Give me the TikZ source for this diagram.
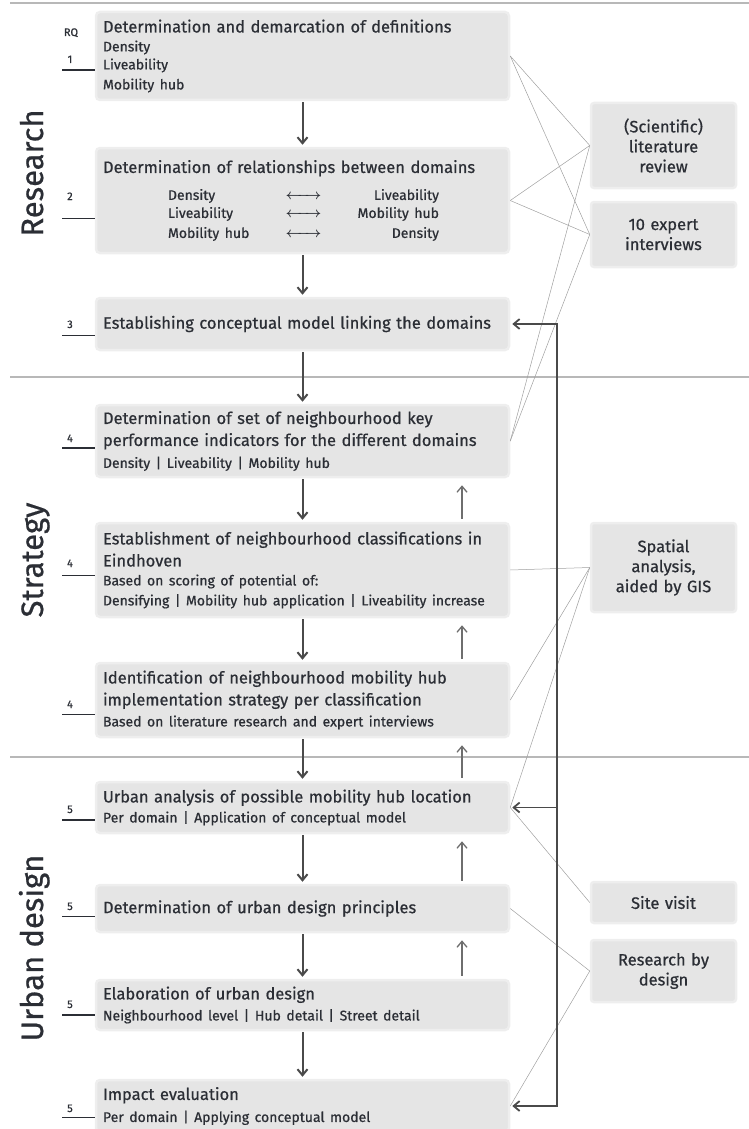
\documentclass[tikz,border=0pt]{standalone}
\usepackage{mathtools}
\usepackage{fontspec}
\setmainfont{Fira Sans}[FakeBold=0.7]
\usetikzlibrary{arrows.meta,positioning,calc}

\definecolor{ink}{HTML}{2B2E35}
\definecolor{boxfill}{HTML}{E5E5E5}
\definecolor{boxedge}{HTML}{EEEEEE}
\definecolor{arrowgray}{HTML}{4A4A4A}
\definecolor{linkgray}{HTML}{A0A0A0}
\definecolor{sepgray}{HTML}{B8B8B8}

\newcommand{\mainsize}{\fontsize{16.5}{20}\selectfont}
\newcommand{\subsize}{\fontsize{14}{18}\selectfont}
\newcommand{\relrow}[2]{\hspace*{65pt}\makebox[116pt][l]{#1}\makebox[39pt]{\boldmath$\xleftrightarrow{\hspace{27pt}}$}\makebox[116pt][r]{#2}}

\tikzset{
  stage/.style={fill=boxfill, draw=boxedge, line width=2.5pt, rounded corners=4pt,
    minimum width=413pt, text width=399pt, inner xsep=7pt, align=left, text=ink, font=\mainsize},
  method/.style={fill=boxfill, draw=boxedge, line width=2.5pt, rounded corners=3pt,
    minimum width=145pt, text width=131pt, align=center, text=ink, font=\mainsize},
  phase/.style={rotate=90, anchor=base, text=ink, font=\fontsize{31}{31}\selectfont},
  rqnum/.style={anchor=base, inner sep=0pt, text=ink, font=\fontsize{11}{11}\selectfont},
  flow/.style={draw=arrowgray, line width=2pt, -{Straight Barb[length=6pt,width=10pt]}},
  loopline/.style={draw=arrowgray, line width=1.8pt,
    {Straight Barb[length=6pt,width=10pt]}-{Straight Barb[length=6pt,width=10pt]}},
  feedback/.style={draw=arrowgray!80, line width=1.3pt, -{Straight Barb[length=6pt,width=10pt]}},
  litlink/.style={draw=linkgray, line width=0.5pt},
  rqline/.style={draw=ink, line width=0.7pt},
  rqlinebold/.style={draw=ink, line width=1.8pt},
  divider/.style={draw=sepgray, line width=1.2pt}
}

\begin{document}
\begin{tikzpicture}[x=1pt,y=-1pt]
    \useasboundingbox (0,0) rectangle (749,1129);
    \foreach \y in {3,377,757}
        \draw[divider] (10,\y) -- (749,\y);

    \node[phase] (research) at (43,173) {Research};
    \node[phase] (strategy) at (43,560) {Strategy};
    \node[phase] (design) at (43,948) {Urban design};

    % stages
    \node[stage, minimum height=88pt] (def) at (302.5,56)
        {Determination and demarcation of definitions\\[1pt] \subsize Density\\ Liveability\\ Mobility hub};
    \node[stage, minimum height=105pt] (rel) at (302.5,200.5)
        {Determination of relationships between domains\\[9pt] \subsize
         \relrow{Density}{Liveability}\\ \relrow{Liveability}{Mobility hub}\\ \relrow{Mobility hub}{Density}};
    \node[stage, minimum height=52pt] (model) at (302.5,324)
        {Establishing conceptual model linking the domains};
    \node[stage, minimum height=72pt] (kpi) at (302.5,441)
        {Determination of set of neighbourhood key\\[2pt] performance indicators for the different domains\\[2pt]
         \subsize Density | Liveability | Mobility hub};
    \node[stage, minimum height=94pt] (class) at (302.5,570)
        {Establishment of neighbourhood classifications in\\[2pt] Eindhoven\\[1pt]
         \subsize Based on scoring of potential of:\\ Densifying | Mobility hub application | Liveability increase};
    \node[stage, minimum height=74pt] (strat) at (302.5,700)
        {Identification of neighbourhood mobility hub\\[2pt] implementation strategy per classification\\[1pt]
         \subsize Based on literature research and expert interviews};
    \node[stage, minimum height=51pt] (urban) at (302.5,807.5)
        {Urban analysis of possible mobility hub location\\ \subsize Per domain | Application of conceptual model};
    \node[stage, minimum height=47pt] (principles) at (302.5,908.5)
        {Determination of urban design principles};
    \node[stage, minimum height=50pt] (elab) at (302.5,1005)
        {Elaboration of urban design\\[1pt] \subsize Neighbourhood level | Hub detail | Street detail};
    \node[stage, minimum height=52pt] (impact) at (302.5,1106)
        {Impact evaluation\\[2pt] \subsize Per domain | Applying conceptual model};

    % methods
    \node[method, minimum height=85pt] (lit) at (663.5,145.5) {(Scientific)\\ literature\\ review};
    \node[method, minimum height=65pt] (expert) at (663.5,234.5) {10 expert\\ interviews};
    \node[method, minimum height=89pt] (gis) at (663.5,567.5) {Spatial\\ analysis,\\ aided by GIS};
    \node[method, minimum height=41pt] (site) at (663.5,902.5) {Site visit};
    \node[method, minimum height=62pt] (rbd) at (663.5,971) {Research by\\ design};

    \draw[litlink] (def.east) -- (lit.west);
    \draw[litlink] (def.east) -- (expert.west);
    \draw[litlink] (rel.east) -- (lit.west);
    \draw[litlink] (rel.east) -- (expert.west);
    \draw[litlink] (lit.west) -- (kpi.east);
    \draw[litlink] (expert.west) -- (kpi.east);
    \draw[litlink] (gis.west) -- (class.east);
    \draw[litlink] (gis.west) -- (strat.east);
    \draw[litlink] (gis.west) -- (urban.east);
    \draw[litlink] (urban.east) -- (site.west);
    \draw[litlink] (principles.east) -- (rbd.west);
    \draw[litlink] (rbd.west) -- (impact.east);

    \foreach \a/\b in {def/rel, rel/model, model/kpi, kpi/class, class/strat,
                       strat/urban, urban/principles, principles/elab, elab/impact}
        \draw[flow, shorten <=1pt, shorten >=2pt] (\a.south) -- (\b.north);

    \coordinate (up) at (462,0);
    \foreach \a/\b in {class/kpi, strat/class, urban/strat, principles/urban, elab/principles}
        \draw[feedback, shorten <=3pt, shorten >=7pt] (up |- \a.north) -- (up |- \b.south);

    \coordinate (loop) at (557,0);
    \draw[loopline, shorten <=2pt, shorten >=2pt]
        (model.east) -- (loop |- model.east) -- (loop |- impact.east) -- (impact.east);
    \draw[flow, line width=1.8pt, shorten >=2pt] (loop |- urban.east) -- (urban.east);

    % research questions
    \node[rqnum] (rq) at (71,36) {RQ};
    \foreach \i/\t/\b/\l/\w/\s in {1/1/63/70/rqlinebold/def, 2/2/200/218/rqline/rel,
            3/3/328/335/rqline/model, 4/4/442/448/rqlinebold/kpi, 5/4/567/575/rqline/class,
            6/4/708/714/rqline/strat, 7/5/813/820/rqlinebold/urban, 8/5/910/916/rqline/principles,
            9/5/1008/1015/rqlinebold/elab, 10/5/1112/1117/rqline/impact}
    {
        \node[rqnum] (n\i) at (70,\b) {\t};
        \draw[\w] (n\i.base) ++(-8,\l-\b) coordinate (u\i) -- (u\i -| \s.west);
    }
\end{tikzpicture}
\end{document}
